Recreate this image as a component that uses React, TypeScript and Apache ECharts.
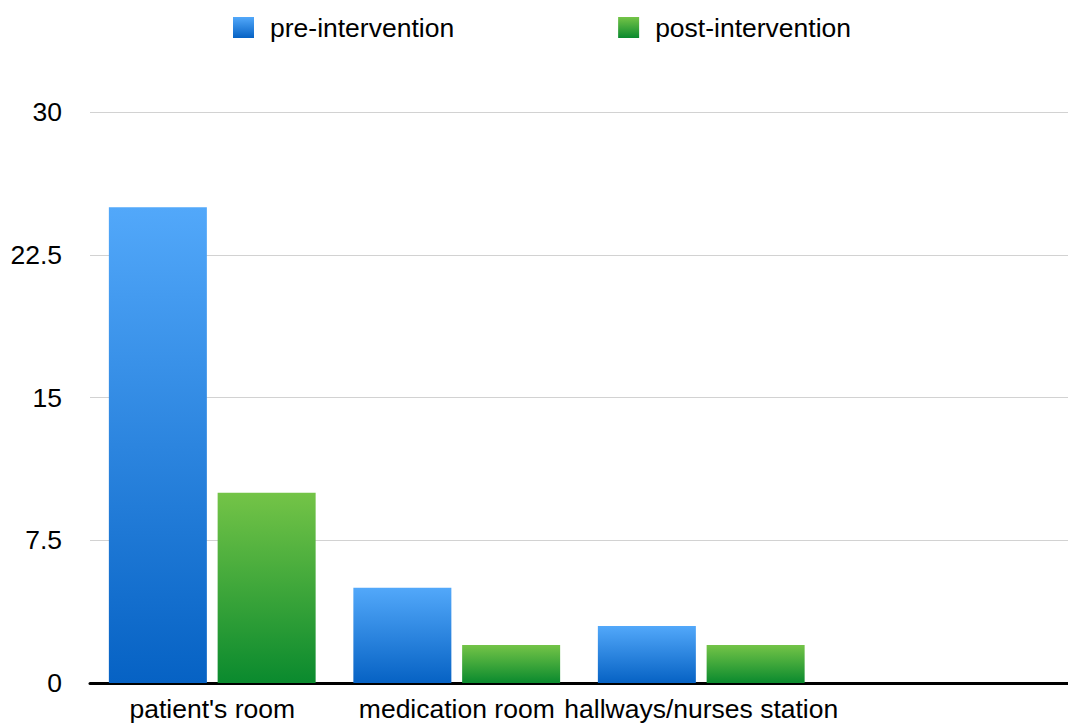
import React, { useEffect, useRef } from "react";
import * as echarts from "echarts";

const categories = ["patient's room", "medication room", "hallways/nurses station", ""];
const preIntervention = [25, 5, 3, null];
const postIntervention = [10, 2, 2, null];
const seriesNames = ["pre-intervention", "post-intervention"];

const FONT = "'Liberation Sans', Arial, Helvetica, sans-serif";
const FS = 26.5;

export default function App() {
  const ref = useRef<HTMLDivElement>(null);
  useEffect(() => {
    if (!ref.current) return;
    const chart = echarts.init(ref.current, undefined, { renderer: "svg" });
    const grad = (a: string, b: string) =>
      new echarts.graphic.LinearGradient(0, 0, 0, 1, [
        { offset: 0, color: a },
        { offset: 1, color: b },
      ]);
    chart.setOption({
      animation: false,
      backgroundColor: "#ffffff",
      textStyle: { fontFamily: FONT },
      legend: {
        top: 14,
        left: 233,
        padding: 0,
        itemWidth: 21,
        itemHeight: 21,
        itemGap: 164,
        icon: "rect",
        textStyle: { fontSize: FS, color: "#000", fontFamily: FONT, padding: [0, 0, 0, 11] },
        data: seriesNames,
      },
      grid: { left: 90, right: 0, top: 112, bottom: 40, containLabel: false },
      xAxis: {
        type: "category",
        data: categories,
        axisLine: { show: true, lineStyle: { color: "#000", width: 3 } },
        axisTick: { show: false },
        axisLabel: { interval: 0, fontSize: FS, color: "#000", margin: 12, fontFamily: FONT },
        splitLine: { show: false },
      },
      yAxis: {
        type: "value",
        min: 0,
        max: 30,
        interval: 7.5,
        axisLine: { show: false },
        axisTick: { show: false },
        axisLabel: { fontSize: FS, color: "#000", margin: 28, fontFamily: FONT },
        splitLine: { show: true, lineStyle: { color: "#d2d2d2", width: 1 } },
      },
      series: [
        {
          name: seriesNames[0],
          type: "bar",
          data: preIntervention,
          barWidth: 98,
          barGap: "11%",
          itemStyle: { color: grad("#52a8fa", "#0662c4") },
        },
        {
          name: seriesNames[1],
          type: "bar",
          data: postIntervention,
          barWidth: 98,
          barGap: "11%",
          itemStyle: { color: grad("#74c447", "#0a8a2e") },
        },
      ],
    });
    return () => chart.dispose();
  }, []);
  return (
    <div
      ref={ref}
      style={{ position: "fixed", left: 0, top: 0, width: 1068, height: 723, background: "#fff" }}
    />
  );
}
